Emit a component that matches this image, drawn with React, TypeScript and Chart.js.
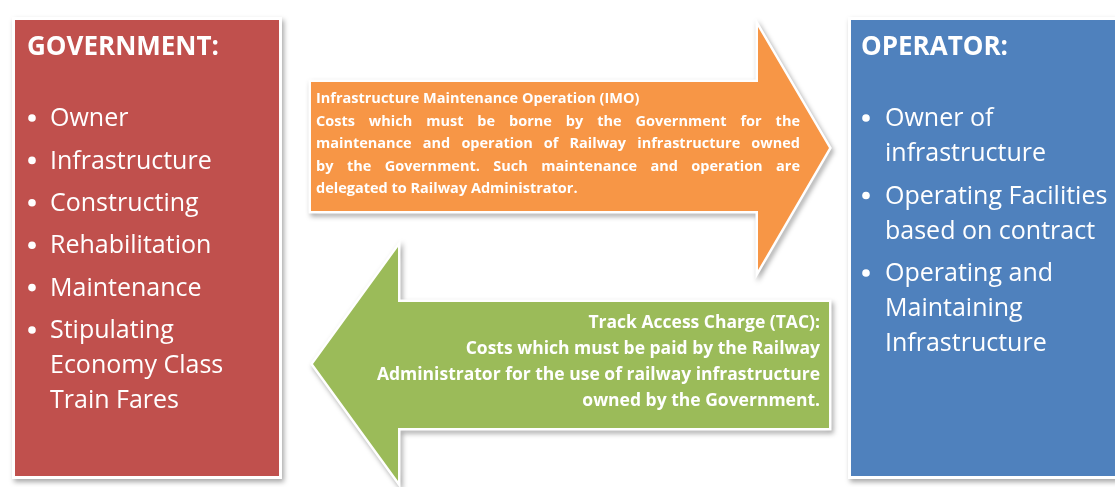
import React, { useEffect, useRef } from "react";
import { Chart, registerables } from "chart.js";

Chart.register(...registerables);

// ---------- content (text data) ----------
const govTitle = "GOVERNMENT:";
const govItems: string[][] = [
  ["Owner"],
  ["Infrastructure"],
  ["Constructing"],
  ["Rehabilitation"],
  ["Maintenance"],
  ["Stipulating", "Economy Class", "Train Fares"],
];
const opTitle = "OPERATOR:";
const opItems: string[][] = [
  ["Owner of", "infrastructure"],
  ["Operating Facilities", "based on contract"],
  ["Operating and", "Maintaining", "Infrastructure"],
];
const imoLines: string[] = [
  "Infrastructure Maintenance Operation (IMO)",
  "Costs which must be borne by the Government for the",
  "maintenance and operation of Railway infrastructure owned",
  "by the Government. Such maintenance and operation are",
  "delegated to Railway Administrator.",
];
const imoJustified: boolean[] = [false, true, true, true, false];
const tacLines: string[] = [
  "Track Access Charge (TAC):",
  "Costs which must be paid by the Railway",
  "Administrator for the use of railway infrastructure",
  "owned by the Government.",
];

// ---------- layout (diagram units = page pixels) ----------
const W = 1115;
const H = 487;
const FONT = '"Open Sans", "Noto Sans", sans-serif';
const colors = {
  red: "#C0504D",
  blue: "#4F81BD",
  orange: "#F79646",
  green: "#9BBB59",
};

const diagramPlugin = {
  id: "diagram",
  afterDraw(chart: any) {
    const ctx: CanvasRenderingContext2D = chart.ctx;
    const xs = chart.scales.x;
    const ys = chart.scales.y;
    const px = (v: number) => xs.getPixelForValue(v);
    const py = (v: number) => ys.getPixelForValue(v);

    const shadowed = (fn: () => void) => {
      ctx.save();
      ctx.shadowColor = "rgba(0,0,0,0.35)";
      ctx.shadowBlur = 5;
      ctx.shadowOffsetX = 2;
      ctx.shadowOffsetY = 3;
      fn();
      ctx.restore();
    };

    const box = (x0: number, y0: number, x1: number, y1: number, color: string) => {
      shadowed(() => {
        ctx.fillStyle = "#ffffff";
        ctx.fillRect(px(x0) - 3, py(y0) - 3, px(x1) - px(x0) + 6, py(y1) - py(y0) + 6);
      });
      ctx.fillStyle = color;
      ctx.fillRect(px(x0), py(y0), px(x1) - px(x0), py(y1) - py(y0));
    };

    const poly = (pts: number[][], color: string) => {
      const path = () => {
        ctx.beginPath();
        pts.forEach((p, i) => (i === 0 ? ctx.moveTo(px(p[0]), py(p[1])) : ctx.lineTo(px(p[0]), py(p[1]))));
        ctx.closePath();
      };
      shadowed(() => {
        path();
        ctx.lineJoin = "miter";
        ctx.strokeStyle = "#ffffff";
        ctx.lineWidth = 5;
        ctx.stroke();
      });
      path();
      ctx.fillStyle = color;
      ctx.fill();
    };

    ctx.save();
    ctx.fillStyle = "#ffffff";
    ctx.fillRect(0, 0, chart.width, chart.height);
    ctx.restore();

    // Boxes
    box(15, 20, 279, 476, colors.red);
    box(851, 20, 1125, 476, colors.blue);

    // Orange arrow (right)
    poly(
      [
        [311, 82],
        [758, 82],
        [758, 27],
        [829, 148],
        [758, 270],
        [758, 211],
        [311, 211],
      ],
      colors.orange
    );
    // Green arrow (left)
    poly(
      [
        [829, 302],
        [398, 302],
        [398, 247],
        [313, 364],
        [398, 481],
        [398, 428],
        [829, 428],
      ],
      colors.green
    );

    ctx.fillStyle = "#ffffff";
    ctx.textBaseline = "middle";

    // Government
    ctx.textAlign = "left";
    ctx.font = `bold 26px ${FONT}`;
    ctx.fillText(govTitle, px(27), py(48));
    const listBlock = (items: string[][], bx: number, tx: number, startY: number, gapLine: number, gapItem: number) => {
      ctx.font = `25px ${FONT}`;
      let y = startY;
      items.forEach((lines) => {
        ctx.beginPath();
        ctx.arc(px(bx), py(y), 3.8, 0, Math.PI * 2);
        ctx.fill();
        lines.forEach((l, i) => {
          ctx.fillText(l, px(tx), py(y + 1));
          if (i < lines.length - 1) y += gapLine;
        });
        y += gapItem;
      });
    };
    listBlock(govItems, 32, 50, 118, 35, 42.4);

    // Operator
    ctx.font = `bold 26px ${FONT}`;
    ctx.fillText(opTitle, px(861), py(48));
    listBlock(opItems, 866, 885, 118, 35, 42.5);

    // IMO text (justified)
    ctx.font = `bold 14.5px ${FONT}`;
    const jx0 = 316;
    const jx1 = 800;
    imoLines.forEach((line, i) => {
      const y = 99 + i * 22.5;
      ctx.textAlign = "left";
      if (!imoJustified[i]) {
        ctx.fillText(line, px(jx0), py(y));
        return;
      }
      const words = line.split(" ");
      const wordsW = words.reduce((s, w) => s + ctx.measureText(w).width, 0);
      const gap = (px(jx1) - px(jx0) - wordsW) / (words.length - 1);
      let x = px(jx0);
      words.forEach((w) => {
        ctx.fillText(w, x, py(y));
        x += ctx.measureText(w).width + gap;
      });
    });

    // TAC text (right aligned)
    ctx.font = `bold 17.5px ${FONT}`;
    ctx.textAlign = "right";
    tacLines.forEach((line, i) => {
      ctx.fillText(line, px(820), py(323 + i * 26));
    });
  },
};

export default function App() {
  const ref = useRef<HTMLCanvasElement | null>(null);
  useEffect(() => {
    document.body.style.margin = "0";
    const canvas = ref.current!;
    const chart = new Chart(canvas, {
      type: "scatter",
      data: { datasets: [{ data: [], pointRadius: 0 }] },
      options: {
        animation: false,
        responsive: false,
        maintainAspectRatio: false,
        layout: { padding: 0 },
        plugins: { legend: { display: false }, tooltip: { enabled: false } },
        scales: {
          x: { type: "linear", min: 0, max: W, display: false },
          y: { type: "linear", min: 0, max: H, reverse: true, display: false },
        },
      },
      plugins: [diagramPlugin],
    });
    return () => chart.destroy();
  }, []);
  return (
    <div style={{ position: "fixed", left: 0, top: 0, width: W, height: H }}>
      <canvas ref={ref} width={W} height={H} style={{ display: "block" }} />
    </div>
  );
}
